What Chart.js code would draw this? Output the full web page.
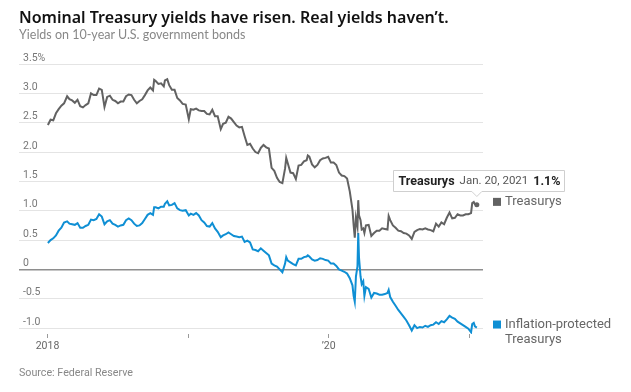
<!DOCTYPE html>
<html><head><meta charset="utf-8">
<script src="https://cdn.jsdelivr.net/npm/chart.js@4/dist/chart.umd.min.js"></script>
<style>
html,body{margin:0;padding:0;background:#fff;width:631px;height:392px;overflow:hidden}
#wrap{position:relative;width:631px;height:392px}
#c{position:absolute;left:0;top:0}
.title{position:absolute;left:19px;top:7px;line-height:20px;font-family:'Noto Sans',sans-serif;font-weight:600;font-size:16px;color:#111;white-space:nowrap}
.sub{position:absolute;left:19px;top:27px;line-height:16px;font-family:Lato,sans-serif;font-size:12.5px;color:#888;white-space:nowrap}
.src{position:absolute;left:19px;top:366px;line-height:14px;font-family:Roboto,sans-serif;font-size:10.7px;color:#888;white-space:nowrap}
</style></head>
<body><div id="wrap">
<canvas id="c" width="631" height="392"></canvas>
<div class="title">Nominal Treasury yields have risen. Real yields haven’t.</div>
<div class="sub">Yields on 10-year U.S. government bonds</div>
<div class="src">Source: Federal Reserve</div>
</div>
<script>
const dates = [
"2018-01-02","2018-01-09","2018-01-16","2018-01-23","2018-01-30","2018-02-06","2018-02-13","2018-02-21","2018-02-27",
"2018-03-06","2018-03-13","2018-03-20","2018-03-27","2018-04-03","2018-04-10","2018-04-17","2018-04-24","2018-05-01",
"2018-05-08","2018-05-15","2018-05-22","2018-05-29","2018-06-05","2018-06-12","2018-06-19","2018-06-26","2018-07-03",
"2018-07-10","2018-07-17","2018-07-24","2018-07-31","2018-08-07","2018-08-14","2018-08-21","2018-08-28","2018-09-04",
"2018-09-11","2018-09-18","2018-09-25","2018-10-02","2018-10-05","2018-10-09","2018-10-16","2018-10-23","2018-10-30",
"2018-11-02","2018-11-08","2018-11-13","2018-11-20","2018-11-27","2018-12-04","2018-12-11","2018-12-18","2018-12-26",
"2019-01-03","2019-01-08","2019-01-15","2019-01-22","2019-01-29","2019-02-05","2019-02-12","2019-02-19","2019-02-26",
"2019-03-05","2019-03-12","2019-03-19","2019-03-27","2019-04-02","2019-04-09","2019-04-16","2019-04-23","2019-04-30",
"2019-05-07","2019-05-14","2019-05-21","2019-05-28","2019-06-04","2019-06-11","2019-06-18","2019-06-25","2019-07-02",
"2019-07-09","2019-07-16","2019-07-23","2019-07-30","2019-08-06","2019-08-13","2019-08-20","2019-08-27","2019-09-03",
"2019-09-10","2019-09-13","2019-09-17","2019-09-24","2019-10-01","2019-10-08","2019-10-15","2019-10-22","2019-10-29",
"2019-11-05","2019-11-08","2019-11-12","2019-11-19","2019-11-26","2019-12-03","2019-12-10","2019-12-17","2019-12-24",
"2019-12-31","2020-01-07","2020-01-14","2020-01-21","2020-01-28","2020-02-04","2020-02-11","2020-02-18","2020-02-25",
"2020-03-03","2020-03-06","2020-03-09","2020-03-12","2020-03-16","2020-03-18","2020-03-20","2020-03-24","2020-03-27",
"2020-03-31","2020-04-03","2020-04-07","2020-04-14","2020-04-21","2020-04-28","2020-05-05","2020-05-12","2020-05-19",
"2020-05-26","2020-06-02","2020-06-05","2020-06-09","2020-06-16","2020-06-23","2020-06-30","2020-07-07","2020-07-14",
"2020-07-21","2020-07-28","2020-08-04","2020-08-11","2020-08-18","2020-08-25","2020-09-01","2020-09-08","2020-09-15",
"2020-09-22","2020-09-29","2020-10-06","2020-10-13","2020-10-20","2020-10-27","2020-11-03","2020-11-10","2020-11-17",
"2020-11-24","2020-12-01","2020-12-08","2020-12-15","2020-12-22","2020-12-29","2021-01-05","2021-01-08","2021-01-12",
"2021-01-15","2021-01-20"];

const treasurys = [
2.46,2.55,2.54,2.66,2.73,2.79,2.83,2.95,2.90,
2.88,2.84,2.89,2.78,2.76,2.80,2.83,3.00,2.97,
2.97,3.08,3.06,2.77,2.94,2.96,2.89,2.87,2.83,
2.86,2.86,2.95,2.98,2.97,2.89,2.83,2.87,2.90,
2.97,3.05,3.10,3.05,3.23,3.21,3.16,3.17,3.12,
3.22,3.24,3.14,3.06,3.06,2.92,2.88,2.82,2.81,
2.56,2.73,2.72,2.74,2.71,2.70,2.70,2.65,2.64,
2.72,2.61,2.61,2.39,2.48,2.50,2.60,2.57,2.51,
2.45,2.42,2.43,2.27,2.12,2.14,2.06,2.00,1.98,
2.07,2.12,2.08,2.06,1.73,1.68,1.56,1.49,1.47,
1.72,1.90,1.81,1.65,1.64,1.54,1.77,1.78,1.84,
1.86,1.94,1.92,1.79,1.74,1.78,1.86,1.89,1.90,
1.92,1.82,1.82,1.78,1.65,1.60,1.59,1.55,1.33,
1.02,0.76,0.54,0.88,0.73,1.18,0.92,0.84,0.68,
0.70,0.62,0.75,0.76,0.57,0.62,0.66,0.66,0.70,
0.69,0.68,0.91,0.84,0.75,0.71,0.66,0.65,0.62,
0.61,0.58,0.52,0.64,0.67,0.69,0.68,0.70,0.68,
0.67,0.65,0.78,0.73,0.80,0.77,0.88,0.97,0.87,
0.88,0.94,0.92,0.92,0.94,0.94,0.96,1.13,1.15,
1.11,1.10];

const tips = [
0.45,0.50,0.53,0.58,0.66,0.71,0.80,0.82,0.78,
0.77,0.76,0.79,0.71,0.71,0.74,0.76,0.85,0.84,
0.86,0.94,0.90,0.77,0.82,0.84,0.78,0.76,0.73,
0.75,0.76,0.84,0.87,0.84,0.78,0.74,0.75,0.79,
0.86,0.93,0.96,0.93,1.06,1.06,1.04,1.07,1.07,
1.12,1.16,1.09,1.10,1.13,1.04,1.01,1.00,1.01,
0.92,0.95,0.93,0.96,0.92,0.84,0.80,0.74,0.73,
0.79,0.70,0.64,0.55,0.58,0.60,0.63,0.60,0.57,
0.56,0.55,0.56,0.47,0.49,0.46,0.34,0.33,0.31,
0.36,0.32,0.28,0.24,0.10,0.07,0.05,0.00,-0.05,
0.10,0.21,0.15,0.12,0.09,0.07,0.18,0.18,0.21,
0.22,0.24,0.22,0.17,0.15,0.16,0.19,0.18,0.16,
0.15,0.10,0.10,0.06,0.00,-0.02,-0.04,-0.07,-0.15,
-0.27,-0.45,-0.55,-0.12,0.05,0.62,0.20,-0.12,-0.25,
-0.20,-0.45,-0.30,-0.33,-0.48,-0.40,-0.41,-0.43,-0.43,
-0.42,-0.40,-0.35,-0.47,-0.55,-0.62,-0.69,-0.75,-0.81,
-0.87,-0.95,-1.04,-0.95,-1.00,-0.98,-0.99,-0.96,-0.98,
-0.95,-0.94,-0.90,-0.93,-0.88,-0.90,-0.85,-0.79,-0.82,
-0.84,-0.89,-0.92,-0.95,-0.98,-1.01,-1.07,-0.93,-0.91,
-0.97,-0.99];

const seriesNames = [["Treasurys"], ["Inflation-protected", "Treasurys"]];
const seriesColors = ["#626262", "#0f8fd4"];
const yTickValues = [-1, -0.5, 0, 0.5, 1, 1.5, 2, 2.5, 3, 3.5];
const yTickLabels = ["-1.0", "-0.5", "0", "0.5", "1.0", "1.5", "2.0", "2.5", "3.0", "3.5%"];
const xTickDates = ["2018-01-01", "2019-01-01", "2020-01-01", "2021-01-01"];
const xTickLabels = ["2018", "", "’20", ""];
const xRange = ["2017-10-19", "2021-02-05"];
const callout = {series: "Treasurys", date: "Jan. 20, 2021", value: "1.1%"};

const FONT = "Roboto,sans-serif";

const endPlugin = {
  id: 'endPlugin',
  afterDatasetsDraw(chart) {
    const ctx = chart.ctx, area = chart.chartArea;
    ctx.save();
    seriesNames.forEach((lines, i) => {
      const meta = chart.getDatasetMeta(i);
      const p = meta.data[meta.data.length - 1];
      const cy = p.y - 3;
      const sx = area.right + 10;
      ctx.fillStyle = seriesColors[i];
      ctx.fillRect(sx, cy - 4, 8, 8);
      ctx.fillStyle = '#666';
      ctx.font = "13px " + FONT;
      ctx.textBaseline = 'middle';
      ctx.textAlign = 'left';
      lines.forEach((t, k) => ctx.fillText(t, sx + 12, cy + k * 15));
    });
    const meta = chart.getDatasetMeta(0);
    const p = meta.data[meta.data.length - 1];
    const fB = "bold 12.5px " + FONT, fR = "11.5px " + FONT;
    ctx.font = fB; const w1 = ctx.measureText(callout.series).width;
    ctx.font = fR; const w2 = ctx.measureText(callout.date).width;
    ctx.font = fB; const w3 = ctx.measureText(callout.value).width;
    const padL = 5, padR = 4, gap = 5;
    const bw = padL + w1 + gap + w2 + gap + w3 + padR, bh = 21;
    const bx = Math.round(p.x - 84) + 0.5, by = Math.round(p.y - 35) + 0.5;
    ctx.fillStyle = '#fff';
    ctx.strokeStyle = '#cfcfcf';
    ctx.lineWidth = 1;
    ctx.beginPath();
    ctx.moveTo(bx, by);
    ctx.lineTo(bx + bw, by);
    ctx.lineTo(bx + bw, by + bh);
    ctx.lineTo(p.x + 5, by + bh);
    ctx.lineTo(p.x, by + bh + 5);
    ctx.lineTo(p.x - 5, by + bh);
    ctx.lineTo(bx, by + bh);
    ctx.closePath();
    ctx.fill(); ctx.stroke();
    const ty = by + bh / 2 + 0.5;
    ctx.textBaseline = 'middle';
    ctx.textAlign = 'left';
    let tx = bx + padL;
    ctx.fillStyle = '#222'; ctx.font = fB; ctx.fillText(callout.series, tx, ty);
    tx += w1 + gap;
    ctx.fillStyle = '#555'; ctx.font = fR; ctx.fillText(callout.date, tx, ty);
    tx += w2 + gap;
    ctx.fillStyle = '#222'; ctx.font = fB; ctx.fillText(callout.value, tx, ty);
    ctx.restore();
  }
};

const mk = (vals) => dates.map((d, i) => ({x: Date.parse(d), y: vals[i]}));
const lastIdx = dates.length - 1;

new Chart(document.getElementById('c'), {
  type: 'line',
  data: {
    datasets: [
      {label: seriesNames[0].join(' '), data: mk(treasurys), borderColor: seriesColors[0], backgroundColor: seriesColors[0],
       borderWidth: 2, tension: 0, pointRadius: c => c.dataIndex === lastIdx ? 2.5 : 0, pointBorderWidth: 0},
      {label: seriesNames[1].join(' '), data: mk(tips), borderColor: seriesColors[1], backgroundColor: seriesColors[1],
       borderWidth: 2, tension: 0, pointRadius: 0}
    ]
  },
  options: {
    responsive: false, animation: false, devicePixelRatio: 1,
    layout: {padding: {left: 19, right: 148, top: 64, bottom: 28}},
    plugins: {legend: {display: false}, tooltip: {enabled: false}},
    scales: {
      x: {
        type: 'linear', min: Date.parse(xRange[0]), max: Date.parse(xRange[1]),
        afterBuildTicks: s => { s.ticks = xTickDates.map(d => ({value: Date.parse(d)})); },
        afterFit: s => { s.height = 30; },
        grid: {drawOnChartArea: false, drawTicks: true, tickLength: 4, color: '#9a9a9a'},
        border: {display: false},
        ticks: {autoSkip: false, maxRotation: 0, padding: 2, color: '#666', font: {family: FONT, size: 10.5},
                callback: (v, i) => xTickLabels[i]}
      },
      y: {
        min: -1.1, max: 3.5,
        afterBuildTicks: s => { s.ticks = yTickValues.map(v => ({value: v})); },
        afterFit: s => { s.width = 0; },
        grid: {drawTicks: false,
               color: c => (c.tick && c.tick.value === 0) ? '#8e8e8e' : '#e4e4e4',
               lineWidth: c => (c.tick && c.tick.value === 0) ? 1.5 : 1},
        border: {display: false},
        ticks: {mirror: true, padding: 4, labelOffset: -6, color: '#777', font: {family: FONT, size: 10.5},
                callback: (v, i) => yTickLabels[i]}
      }
    }
  },
  plugins: [endPlugin]
});
</script>
</body></html>
